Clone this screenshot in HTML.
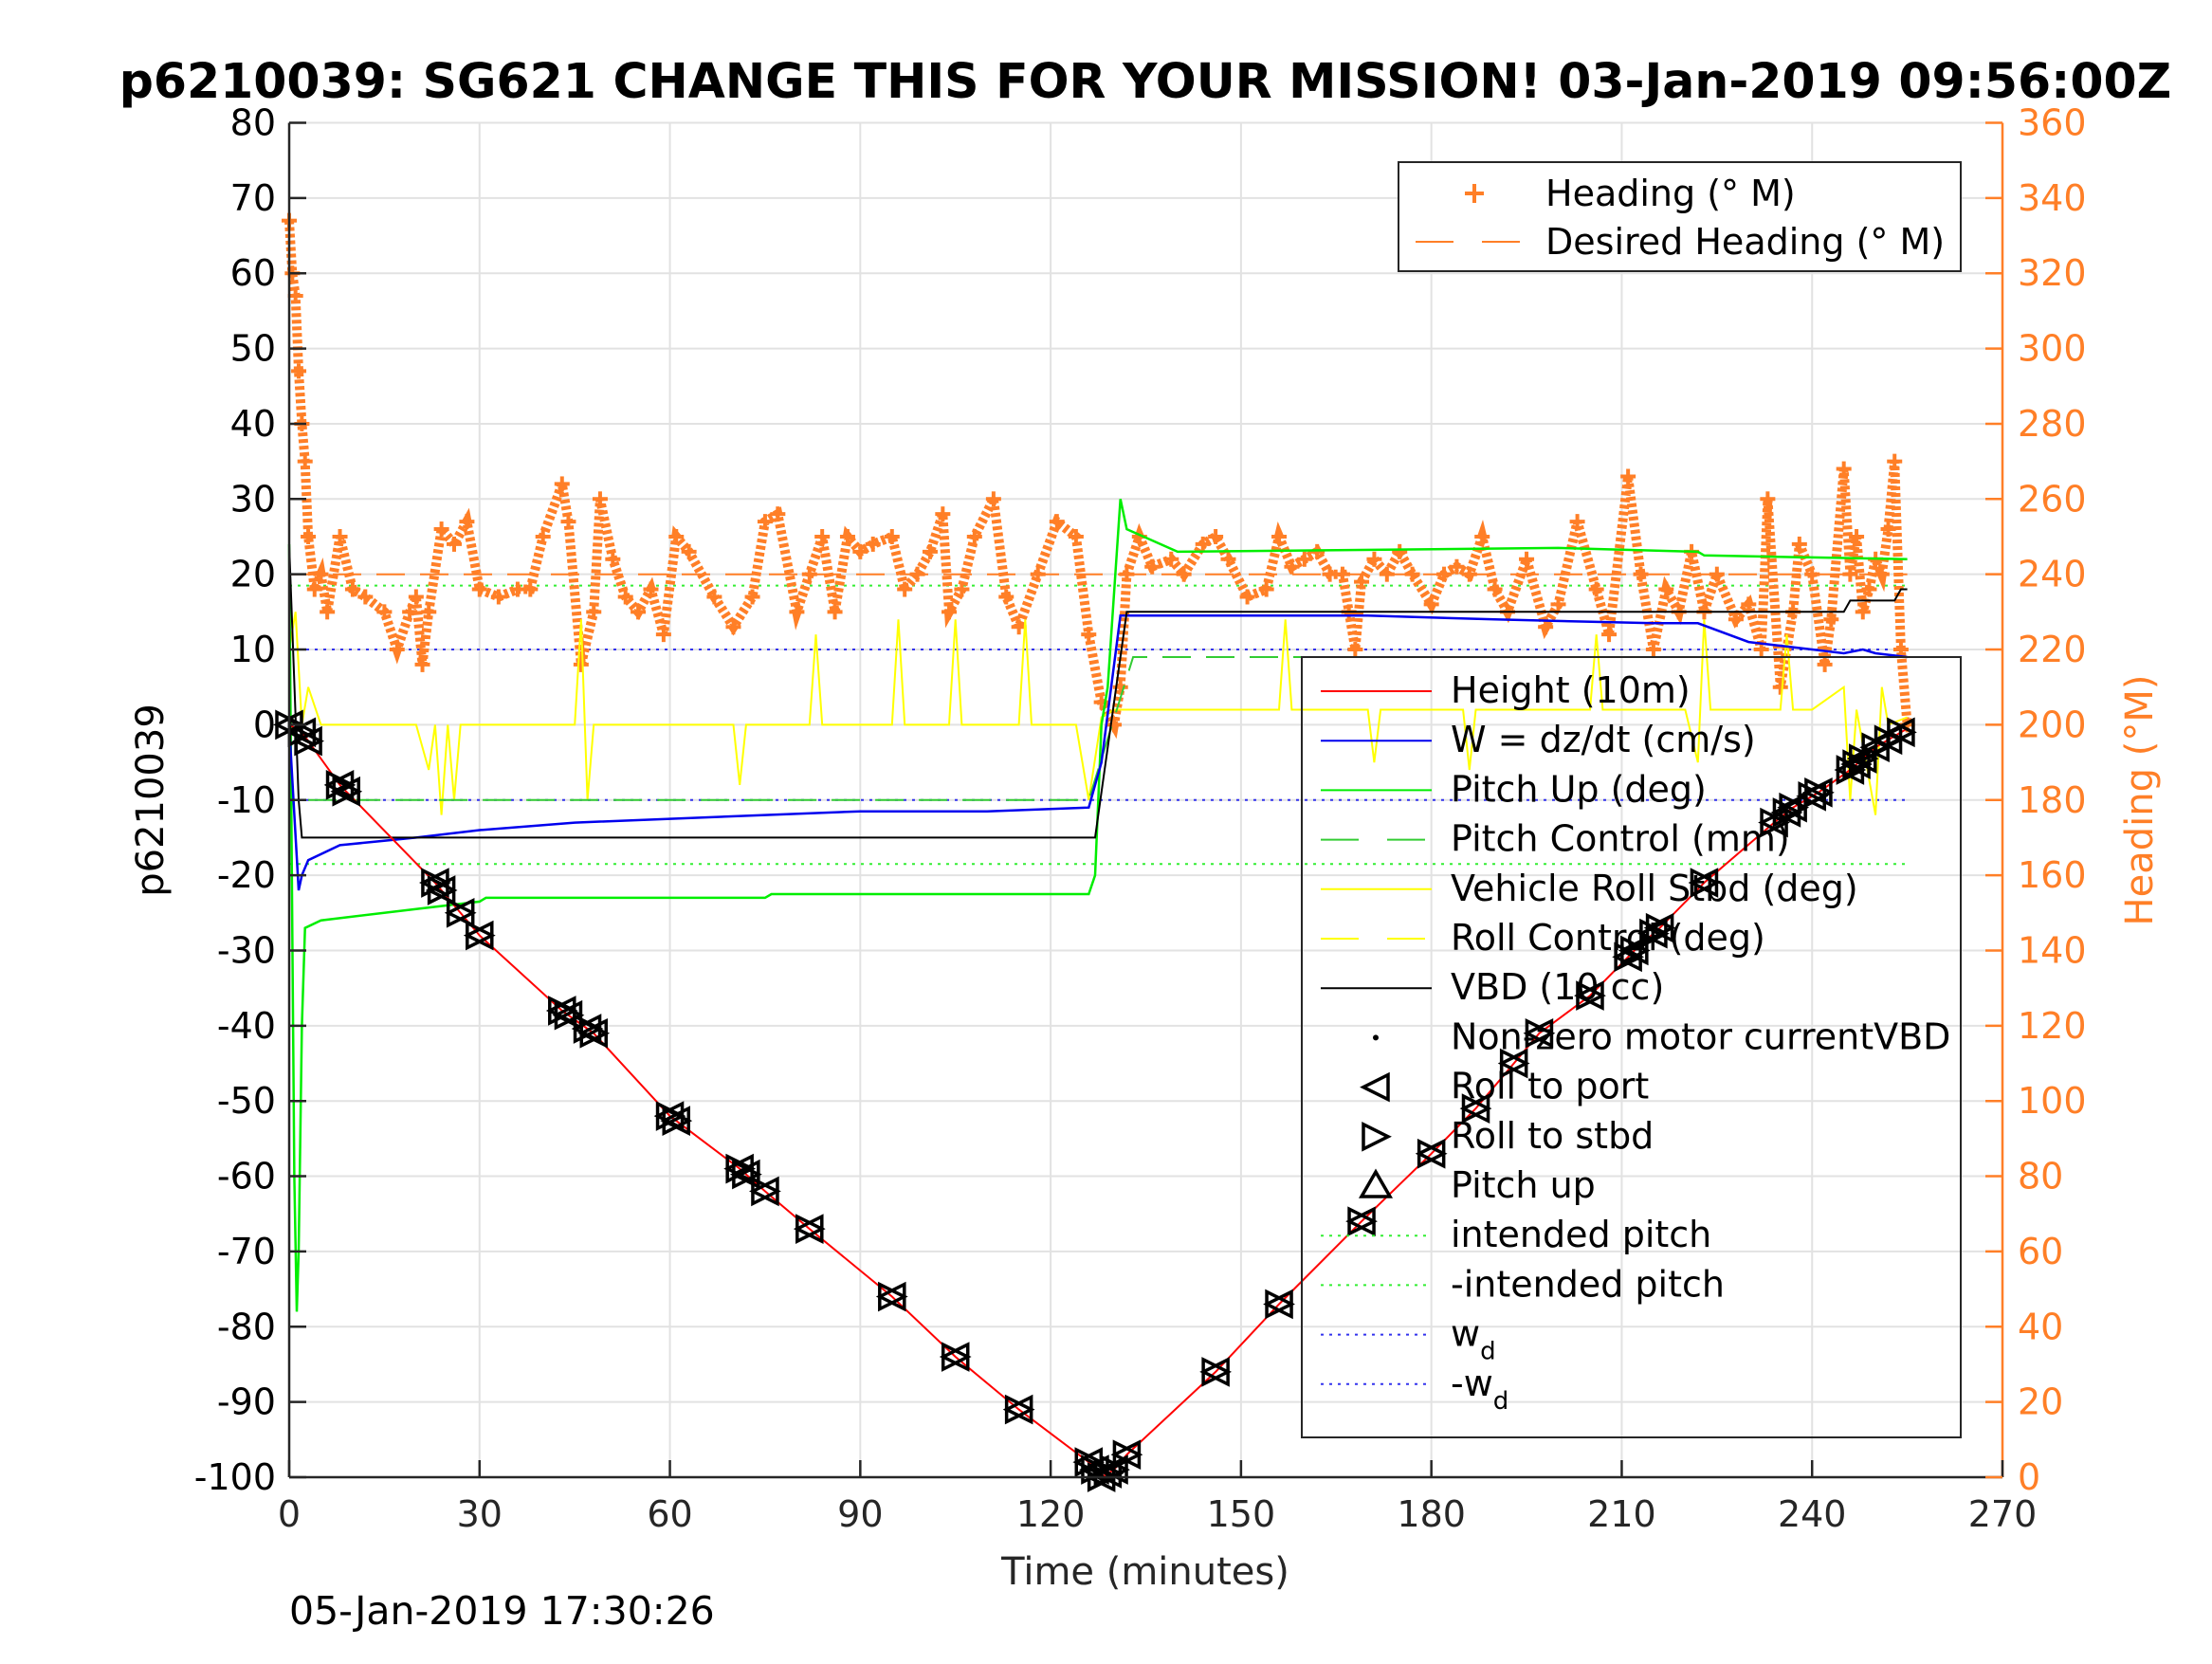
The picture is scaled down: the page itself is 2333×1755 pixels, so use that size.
<!DOCTYPE html>
<html><head><meta charset="utf-8"><style>
body{margin:0;background:#fff}
svg text{font-family:"DejaVu Sans","Liberation Sans",sans-serif}
</style></head><body>
<svg id="chart" width="2333" height="1750" xmlns="http://www.w3.org/2000/svg"></svg>
<script>
const xTicks=[0,30,60,90,120,150,180,210,240,270];
const yTicks=[80,70,60,50,40,30,20,10,0,-10,-20,-30,-40,-50,-60,-70,-80,-90,-100];
const yRTicks=[360,340,320,300,280,260,240,220,200,180,160,140,120,100,80,60,40,20,0];
const heightT=[0,2,8,23,30,43,48,60,71,75,82,95,105,115,126,128,130,132,146,156,169,180,187,193,197,205,212,216,223,234,237,241,246,248,250,253,255];
const heightV=[0,-1,-8,-21,-28,-38,-41,-52,-59,-62,-67,-76,-84,-91,-98,-100,-99,-97,-86,-77,-66,-57,-51,-45,-41,-36,-30,-27,-21,-13,-11,-9,-6,-4.5,-3,-1.5,-0.5];
const markT=[0,2,3,8,9,23,24,27,30,43,44,47,48,60,61,71,72,75,82,95,105,115,126,127,128,129,130,132,146,156,169,180,187,193,197,205,211,212,215,216,223,234,236,237,240,241,246,247,248,250,252,254];
const wT=[0,1.5,2,3,8,20,30,45,60,75,90,110,126,128,131,150,170,190,215,222,230,245,248,250,255];
const wV=[0,-22,-20,-18,-16,-15,-14,-13,-12.5,-12,-11.5,-11.5,-11,-5,14.5,14.5,14.5,14,13.5,13.5,11,9.5,10,9.5,9];
const pitchT=[0,0.8,1.2,1.5,2,2.5,5,20,30,31,75,76,100,126,127,128,129,131,132,140,200,222,223,255];
const pitchV=[24,-60,-78,-70,-40,-27,-26,-24.5,-23.5,-23,-23,-22.5,-22.5,-22.5,-20,0,5,30,26,23,23.5,23,22.5,22];
const pcT=[3,126,133,255];
const pcV=[-10,-10,9,9];
const rollT=[0,1,2,3,5,10,20,22,23,24,25,26,27,30,45,46,47,48,70,71,72,82,83,84,95,96,97,104,105,106,115,116,117,124,126,128,130,132,150,156,157,158,170,171,172,185,186,187,205,206,207,220,222,223,224,235,236,237,240,245,246,247,250,251,252,255];
const rollV=[10,15,0,5,0,0,0,-6,0,-12,0,-10,0,0,0,14,-10,0,0,-8,0,0,12,0,0,14,0,0,14,0,0,14,0,0,-10,1,2,2,2,2,14,2,2,-5,2,2,-6,2,2,12,2,2,-5,14,2,2,12,2,2,5,-10,2,-12,5,0,1];
const vbdT=[0,1.5,2,127,132,245,246,253,254,255];
const vbdV=[24,-10,-15,-15,15,15,16.5,16.5,18,18];
const hdgT=[0,0.5,1,1.5,2,2.5,3,4,5,6,8,10,12,15,17,19,20,21,22,24,26,28,30,33,36,38,40,43,44,46,48,49,51,53,55,57,59,61,63,67,70,73,75,77,80,82,84,86,88,90,92,95,97,99,101,103,104,106,108,111,113,115,118,121,124,126,128,130,131,132,134,136,139,141,144,146,148,151,154,156,158,160,162,164,166,167,168,169,171,173,175,177,180,182,184,186,188,190,192,195,198,200,203,206,208,211,213,215,217,219,221,223,225,228,230,232,233,235,237,238,240,242,243,245,246,247,248,249,250,251,252,253,254,255];
const hdgV=[334,320,314,294,280,270,250,236,240,230,250,236,234,230,220,230,234,216,230,252,248,254,236,234,236,236,250,264,254,216,230,260,244,234,230,236,224,250,246,234,226,234,254,256,230,240,250,230,250,246,248,250,236,240,246,256,230,236,250,260,234,226,240,254,250,224,206,200,210,240,250,242,244,240,248,250,244,234,236,250,242,244,246,240,240,230,220,238,244,240,246,240,232,240,242,240,250,236,230,244,226,232,254,236,224,266,240,220,236,230,246,230,240,228,232,220,260,210,230,248,240,216,228,268,240,250,230,236,244,240,252,270,220,200];
const desT=[0,255];
const desV=[240,240];

const NS="http://www.w3.org/2000/svg";
const svg=document.getElementById('chart');
const L=305,R=2112,T=129.5,B=1558;
const FS=38;
const xs=t=>L+(t-0)/270*(R-L);
const ys=v=>B-(v+100)/180*(B-T);
const yr=h=>B-h/360*(B-T);
function mk(tag,at,parent){const e=document.createElementNS(NS,tag);for(const k in at)e.setAttribute(k,at[k]);(parent||svg).appendChild(e);return e;}
function txt(s,at,parent){const e=mk('text',at,parent);e.textContent=s;return e;}
function pts(T_,V_,f){return T_.map((t,i)=>xs(t).toFixed(1)+','+f(V_[i]).toFixed(1)).join(' ');}
function interp(T_,V_,t){for(let i=1;i<T_.length;i++){if(t<=T_[i]){const a=(t-T_[i-1])/(T_[i]-T_[i-1]);return V_[i-1]+a*(V_[i]-V_[i-1]);}}return V_[V_.length-1];}

const grid=mk('g',{stroke:'#e2e2e2','stroke-width':2});


xTicks.forEach(t=>mk('line',{x1:xs(t),x2:xs(t),y1:T,y2:B},grid));
yTicks.forEach(v=>mk('line',{x1:L,x2:R,y1:ys(v),y2:ys(v)},grid));

function hline(v,color,name,dash){const l=mk('line',{x1:xs(0),x2:xs(255),y1:ys(v),y2:ys(v),stroke:color,'stroke-width':2,'stroke-dasharray':dash});}
hline(18.5,'#33ee33','intended-pitch-line','3 6');
hline(-18.5,'#33ee33','neg-intended-pitch-line','3 6');
hline(10,'#3333ee','wd-line','3 6');
hline(-10,'#3333ee','neg-wd-line','3 6');

const dl=mk('polyline',{points:pts(desT,desV,yr),fill:'none',stroke:'#ff7f27','stroke-width':2,'stroke-dasharray':'30 16'});


const hl=mk('polyline',{points:pts(hdgT,hdgV,yr),fill:'none',stroke:'#ff7f27','stroke-width':10,'stroke-dasharray':'4 3'});


const hg=mk('g',{stroke:'#ff7f27','stroke-width':4});


hdgT.forEach((t,i)=>{const x=xs(t),y=yr(hdgV[i]);mk('line',{x1:x-8,x2:x+8,y1:y,y2:y},hg);mk('line',{x1:x,x2:x,y1:y-8,y2:y+8},hg);});

function series(T_,V_,color,name,w,dash){const p=mk('polyline',{points:pts(T_,V_,ys),fill:'none',stroke:color,'stroke-width':w||2});if(dash)p.setAttribute('stroke-dasharray',dash);}
series(rollT,rollV,'#ffff00','vehicle-roll-line',2);
series(pcT,pcV,'#33cc33','pitch-control-line',2,'30 16');
series(pitchT,pitchV,'#00ee00','pitch-up-line',2.5);
series(wT,wV,'#0000ee','w-line',2.5);
series(vbdT,vbdV,'#000000','vbd-line',2);
series(heightT,heightV,'#ff0000','height-line',2);

const mg=mk('g',{fill:'none',stroke:'#000','stroke-width':3.5});


markT.forEach(t=>{const x=xs(t),y=ys(interp(heightT,heightV,t)),s=13;
mk('polygon',{points:`${x-s},${y} ${x+s},${y-s} ${x+s},${y+s}`},mg);
mk('polygon',{points:`${x+s},${y} ${x-s},${y-s} ${x-s},${y+s}`},mg);});

const ax=mk('g',{stroke:'#262626','stroke-width':2.5,fill:'none'});


mk('line',{x1:L,x2:L,y1:T,y2:B},ax);
mk('line',{x1:L,x2:R,y1:B,y2:B},ax);
mk('line',{x1:R,x2:R,y1:T,y2:B,stroke:'#ff7f27'},ax);
xTicks.forEach(t=>{mk('line',{x1:xs(t),x2:xs(t),y1:B,y2:B-18},ax);
const e=txt(String(t),{x:xs(t),y:B+52,'text-anchor':'middle','font-size':FS,fill:'#262626'});

});
yTicks.forEach(v=>{mk('line',{x1:L,x2:L+18,y1:ys(v),y2:ys(v)},ax);
const e=txt(String(v),{x:L-14,y:ys(v)+13,'text-anchor':'end','font-size':FS,fill:'#000'});

});
yRTicks.forEach(h=>{mk('line',{x1:R,x2:R-18,y1:yr(h),y2:yr(h),stroke:'#ff7f27'},ax);
const e=txt(String(h),{x:R+16,y:yr(h)+13,'text-anchor':'start','font-size':FS,fill:'#ff7f27'});

});

let e;
e=txt('p6210039: SG621 CHANGE THIS FOR YOUR MISSION! 03-Jan-2019 09:56:00Z',{x:1208,y:103,'text-anchor':'middle','font-size':50.5,'font-weight':'bold',fill:'#000'});

e=txt('Time (minutes)',{x:1208,y:1671,'text-anchor':'middle','font-size':FS+2,fill:'#262626'});

e=txt('p6210039',{x:0,y:0,transform:'translate(172,844) rotate(-90)','text-anchor':'middle','font-size':FS+2,fill:'#000'});

e=txt('Heading (°M)',{x:0,y:0,transform:'translate(2270,844) rotate(-90)','text-anchor':'middle','font-size':FS+2,fill:'#ff7f27'});

e=txt('05-Jan-2019 17:30:26',{x:305,y:1713,'font-size':FS+3,fill:'#000'});


const lg1=mk('g',{});


mk('rect',{x:1475,y:171,width:593,height:115,fill:'#fff',stroke:'#262626','stroke-width':2},lg1);
mk('line',{x1:1545,x2:1565,y1:204,y2:204,stroke:'#ff7f27','stroke-width':4},lg1);
mk('line',{x1:1555,x2:1555,y1:194,y2:214,stroke:'#ff7f27','stroke-width':4},lg1);
txt('Heading (° M)',{x:1630,y:217,'font-size':FS,fill:'#000'},lg1);
mk('line',{x1:1493,x2:1610,y1:255,y2:255,stroke:'#ff7f27','stroke-width':2,'stroke-dasharray':'40 30'},lg1);
txt('Desired Heading (° M)',{x:1630,y:268,'font-size':FS,fill:'#000'},lg1);

const lg=mk('g',{});


mk('rect',{x:1373,y:693,width:695,height:823,fill:'none',stroke:'#262626','stroke-width':2},lg);
const items=[['Height (10m)','#ff0000','line'],['W = dz/dt (cm/s)','#0000ee','line'],['Pitch Up (deg)','#00ee00','line'],['Pitch Control (mm)','#33cc33','dash'],['Vehicle Roll Stbd (deg)','#ffff00','line'],['Roll Control (deg)','#ffff00','dash'],['VBD (10 cc)','#000','line'],['Non-zero motor currentVBD','#000','dot'],['Roll to port','#000','left'],['Roll to stbd','#000','right'],['Pitch up','#000','up'],['intended pitch','#33ee33','dot2'],['-intended pitch','#33ee33','dot2'],['w_d','#3333ee','dot2'],['-w_d','#3333ee','dot2']];
items.forEach((it,i)=>{const y=729+i*52.2,cx=1451;
const [lab,c,k]=it;
if(k==='line')mk('line',{x1:1393,x2:1510,y1:y,y2:y,stroke:c,'stroke-width':2},lg);
if(k==='dash')mk('line',{x1:1393,x2:1510,y1:y,y2:y,stroke:c,'stroke-width':2,'stroke-dasharray':'40 30'},lg);
if(k==='dot2')mk('line',{x1:1393,x2:1510,y1:y,y2:y,stroke:c,'stroke-width':2,'stroke-dasharray':'3 6'},lg);
if(k==='dot')mk('circle',{cx:cx,cy:y,r:3,fill:c},lg);
if(k==='left')mk('polygon',{points:`${cx-13},${y} ${cx+13},${y-13} ${cx+13},${y+13}`,fill:'none',stroke:c,'stroke-width':3.5},lg);
if(k==='right')mk('polygon',{points:`${cx+13},${y} ${cx-13},${y-13} ${cx-13},${y+13}`,fill:'none',stroke:c,'stroke-width':3.5},lg);
if(k==='up')mk('polygon',{points:`${cx},${y-15} ${cx-15},${y+11} ${cx+15},${y+11}`,fill:'none',stroke:c,'stroke-width':3.5},lg);
if(lab.startsWith('w_d')||lab.startsWith('-w_d')){const t=txt(lab.startsWith('-')?'-w':'w',{x:1530,y:y+12,'font-size':FS,fill:'#000'},lg);const s=mk('tspan',{'font-size':26,dy:14},t);s.textContent='d';}
else txt(lab,{x:1530,y:y+12,'font-size':FS,fill:'#000'},lg);
});
</script>
</body></html>
